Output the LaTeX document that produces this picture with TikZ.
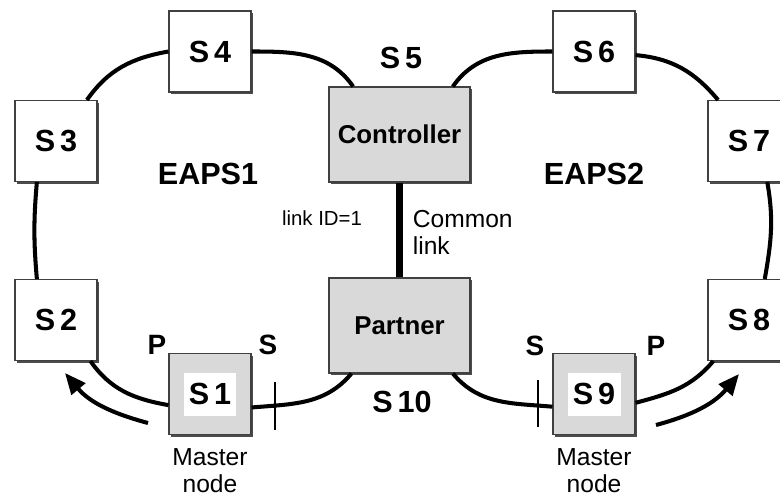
\documentclass[tikz,border=0pt]{standalone}
\usepackage{fontspec}
\setmainfont{Liberation Sans}
\usetikzlibrary{arrows.meta,positioning,shadows}

\begin{document}
\begin{tikzpicture}[
    x=0.02cm, y=0.02cm,
    ring/.style={line width=2.3pt},
    sw/.style={draw=black!75, line width=0.6pt, fill=white, minimum width=1.64cm, minimum height=1.62cm, inner sep=0pt,
        font=\fontsize{17.4}{20}\selectfont\bfseries,
        drop shadow={shadow xshift=0.045cm, shadow yshift=-0.045cm, fill=black!70, opacity=1}},
    master/.style={sw, fill=black!15},
    mastertxt/.style={fill=white, minimum width=1.06cm, minimum height=0.86cm, inner sep=0pt, font=\fontsize{17.4}{20}\selectfont\bfseries},
    ctrlbox/.style={sw, fill=black!15, minimum width=2.82cm, minimum height=1.9cm, font=\fontsize{14.7}{17}\selectfont\bfseries},
    lbl/.style={font=\fontsize{17.4}{20}\selectfont\bfseries, inner sep=0pt},
    port/.style={font=\fontsize{15.9}{18}\selectfont\bfseries, inner sep=0pt},
    note/.style={font=\fontsize{14}{15.4}\selectfont, inner sep=0pt},
    blocker/.style={minimum height=0.94cm, minimum width=0pt, inner sep=0pt},
    dir/.style={line width=2.3pt, -{Triangle[length=12pt,width=10pt]}}
]
\clip (0,0) rectangle (780,498);
% ring EAPS1
\node[sw] (S4) at (210,446.5) {S\,4};
\node[sw] (S3) at (56,357) {S\,3};
\node[sw] (S2) at (56,178) {S\,2};
\node[master] (S1) at (210,104) {};
\node[mastertxt] (S1txt) at (S1) {S\,1};
% shared nodes
\node[ctrlbox] (ctrl) at (399.5,363.5) {Controller};
\node[ctrlbox] (ptr) at (399.5,172.5) {Partner};
% ring EAPS2
\node[sw] (S6) at (594,446.5) {S\,6};
\node[sw] (S7) at (749,357) {S\,7};
\node[sw] (S8) at (749,178) {S\,8};
\node[master] (S9) at (594,104) {};
\node[mastertxt] (S9txt) at (S9) {S\,9};
% labels
\node[lbl] (s5lbl) at (401,440) {S\,5};
\node[lbl] (s10lbl) at (402,96) {S\,10};
\node[lbl] (eaps1) at (208,324) {EAPS1};
\node[lbl] (eaps2) at (594,324) {EAPS2};
\node[font=\fontsize{11.6}{14}\selectfont, inner sep=0pt] (linkid) at (322,280) {link ID=1};
\node[note, align=left, anchor=north west] (common) at (412.5,288) {Common\\link};
\node[note, align=center, below=0.27cm of S1] (m1) {Master\\node};
\node[note, align=center, below=0.27cm of S9] (m9) {Master\\node};
\node[port] (pL) at (157,153) {P};
\node[port] (sL) at (268,153) {S};
\node[port] (sR) at (535,152) {S};
\node[port] (pR) at (656,152) {P};
\node[blocker] (blkL) at (275,92) {};
\node[blocker] (blkR) at (538,94.5) {};
\coordinate (tailL) at (148,75);
\coordinate (tipL) at (65,125);
\coordinate (tailR) at (656,73);
\coordinate (tipR) at (739,124);
% ring links
\draw[ring] (S4.west) to[out=190,in=55] (S3.53);
\draw[ring] (S3.245) to[out=265,in=95] (S2.115);
\draw[ring] (S2.310) to[out=-55,in=170] (S1.195);
\draw[ring] (S1.-18) to[out=5,in=230] (ptr.225);
\draw[ring] (S4.east) to[out=0,in=125] (ctrl.134);
\draw[ring] (ctrl.42) to[out=55,in=180] (S6.west);
\draw[ring] (S6.-5) to[out=-5,in=130] (S7.127);
\draw[ring] (S7.-66) to[out=-80,in=80] (S8.69);
\draw[ring] (S9.-12) to[out=15,in=230] (S8.229);
\draw[ring] (ptr.-42) to[out=-50,in=175] (S9.197);
\draw[line width=4.3pt] (ctrl.south) -- (ptr.north);
% blocked ports
\draw[line width=1.5pt] (blkL.north) -- (blkL.south);
\draw[line width=1.5pt] (blkR.north) -- (blkR.south);
% direction of traffic
\draw[dir] (tailL) to[out=165,in=-50] (tipL);
\draw[dir] (tailR) to[out=15,in=230] (tipR);
\end{tikzpicture}
\end{document}
